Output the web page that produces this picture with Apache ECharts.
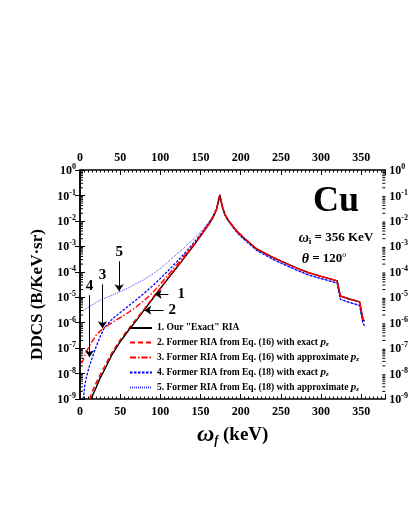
<!DOCTYPE html>
<html>
<head>
<meta charset="utf-8">
<script src="https://cdn.jsdelivr.net/npm/echarts@6/dist/echarts.min.js"></script>
<style>
  html, body { margin: 0; padding: 0; background: #fff; }
  #chart { width: 411px; height: 532px; }
</style>
</head>
<body>
<div id="chart"></div>
<script>
// photon energy grid (keV), rising side of the spectrum
const omegaLow = [2, 4, 6, 8, 10, 12, 14, 16, 20, 25, 30, 40, 50, 60, 70, 80, 90, 100, 110, 120, 130, 140, 150, 160, 165, 170];
// DDCS (b/keV sr), null = below the plotted range
const ddcsExact = [null, null, null, null, null, null, 1.0e-9, 1.48e-9, 2.8e-9, 6.6e-9, 1.32e-8, 5.6e-8, 1.78e-7, 4.8e-7, 1.2e-6, 3.2e-6, 8.3e-6, 2.2e-5, 5.6e-5, 1.4e-4, 3.6e-4, 9.3e-4, 2.5e-3, 7.1e-3, 1.26e-2, 2.8e-2];
const ddcsEq16Exact = [null, null, null, null, null, 1.0e-9, 1.5e-9, 2.2e-9, 4.2e-9, 9.1e-9, 1.74e-8, 6.9e-8, 2.1e-7, 5.6e-7, 1.38e-6, 3.5e-6, 9.1e-6, 2.3e-5, 6.0e-5, 1.48e-4, 3.8e-4, 9.5e-4, 2.6e-3, 7.2e-3, 1.29e-2, 2.9e-2];
const ddcsEq16Approx = [2.5e-8, 3.5e-8, 5.0e-8, 7.1e-8, 9.5e-8, 1.26e-7, 1.58e-7, 2.0e-7, 3.2e-7, 4.7e-7, 6.3e-7, 1.0e-6, 1.58e-6, 2.5e-6, 4.2e-6, 7.4e-6, 1.48e-5, 3.3e-5, 7.6e-5, 1.82e-4, 4.4e-4, 1.05e-3, 2.7e-3, 7.4e-3, 1.32e-2, 2.95e-2];
const ddcsEq18Exact = [null, 1.0e-9, 3.5e-9, 7.1e-9, 1.26e-8, 2.1e-8, 3.2e-8, 5.0e-8, 1.12e-7, 2.8e-7, 6.0e-7, 1.38e-6, 2.5e-6, 4.5e-6, 7.9e-6, 1.45e-5, 2.75e-5, 5.5e-5, 1.12e-4, 2.4e-4, 5.2e-4, 1.2e-3, 2.95e-3, 7.9e-3, 1.38e-2, 3.0e-2];
const ddcsEq18Approx = [null, 3.0e-6, 3.3e-6, 3.6e-6, 4.0e-6, 4.4e-6, 4.8e-6, 5.2e-6, 6.3e-6, 7.6e-6, 8.9e-6, 1.2e-5, 1.66e-5, 2.3e-5, 3.4e-5, 5.0e-5, 7.9e-5, 1.35e-4, 2.5e-4, 4.8e-4, 9.1e-4, 1.78e-3, 3.6e-3, 8.7e-3, 1.48e-2, 3.2e-2];

// peak and falling side, where the curves group into a red and a blue bundle
const omegaHigh = [174, 177, 180, 184, 190, 196, 205, 220, 240, 255, 270, 285, 300, 310, 320, 321, 324, 335, 348, 349, 352, 354];
const ddcsHighRed = [0.105, 3.8e-2, 1.9e-2, 1.12e-2, 6.3e-3, 3.7e-3, 2.0e-3, 7.9e-4, 3.7e-4, 2.24e-4, 1.38e-4, 9.1e-5, 6.6e-5, 5.4e-5, 4.4e-5, 4.2e-5, 1.12e-5, 8.5e-6, 6.6e-6, 6.5e-6, 1.41e-6, 1.12e-6];
const ddcsHighBlue = [0.1, 3.6e-2, 1.8e-2, 1.05e-2, 5.8e-3, 3.3e-3, 1.78e-3, 6.9e-4, 3.1e-4, 1.86e-4, 1.15e-4, 7.4e-5, 5.4e-5, 4.4e-5, 3.6e-5, 3.4e-5, 8.3e-6, 6.3e-6, 4.7e-6, 4.6e-6, 1.0e-6, 7.6e-7];

const seriesNames = [
    '1. Our "Exact" RIA',
    '2. Former RIA from Eq. (16) with exact p_z',
    '3. Former RIA from Eq. (16) with approximate p_z',
    '4. Former RIA from Eq. (18) with exact p_z',
    '5. Former RIA from Eq. (18) with approximate p_z'
];
const minorMantissas = [2, 3, 4, 5, 6, 7, 8, 9];

const FONT = '"Liberation Serif", "DejaVu Serif", serif';

function buildCurve(low, high) {
    const out = [];
    omegaLow.forEach((w, i) => { if (low[i] != null) out.push([w, low[i]]) });
    omegaHigh.forEach((w, i) => out.push([w, high[i]]));
    return out;
}

const minorTickData = [];
for (let e = -9; e < 0; e++) {
    minorMantissas.forEach(m => minorTickData.push([0, m * Math.pow(10, e)]));
}

const chart = echarts.init(document.getElementById('chart'));

const powLabel = {
    formatter: function (v) {
        const e = Math.round(Math.log10(v));
        return '{b|10}{s|' + e + '}';
    },
    rich: {
        b: { fontFamily: FONT, fontWeight: 'bold', fontSize: 12, color: '#000', lineHeight: 14, verticalAlign: 'bottom' },
        s: { fontFamily: FONT, fontWeight: 'bold', fontSize: 8, color: '#000', lineHeight: 9, verticalAlign: 'top' }
    }
};

const xLabel = { fontFamily: FONT, fontWeight: 'bold', fontSize: 12, color: '#000', showMaxLabel: false };

// arrow from -> to in data coordinates, numbered label at its tail
function arrowSeg(name, from, to, dist) {
    return [{ coord: from, name: name, label: { distance: dist } }, { coord: to }];
}

chart.setOption({
    animation: false,
    grid: { left: 80, right: 22, top: 170, bottom: 133 },
    legend: {
        data: seriesNames,
        orient: 'vertical',
        left: 124,
        top: 318,
        itemWidth: 22,
        itemHeight: 10,
        itemGap: 4,
        itemStyle: { opacity: 0 },
        formatter: name => name.replace(' p_z', ' {p|p}{z|z}'),
        textStyle: {
            fontFamily: FONT, fontWeight: 'bold', fontSize: 9.5, color: '#000',
            rich: {
                p: { fontFamily: FONT, fontWeight: 'bold', fontStyle: 'italic', fontSize: 11, color: '#000', lineHeight: 11 },
                z: { fontFamily: FONT, fontWeight: 'bold', fontStyle: 'italic', fontSize: 7, color: '#000', lineHeight: 7, verticalAlign: 'bottom' }
            }
        }
    },
    xAxis: [
        {
            type: 'value', min: 0, max: 380, interval: 50, position: 'bottom',
            name: '{w|ω}{f|f}{t| (keV)}',
            nameLocation: 'middle', nameGap: 24,
            nameTextStyle: {
                rich: {
                    w: { fontFamily: FONT, fontStyle: 'italic', fontWeight: 'bold', fontSize: 24, color: '#000', lineHeight: 24 },
                    f: { fontFamily: FONT, fontStyle: 'italic', fontWeight: 'bold', fontSize: 12, color: '#000', lineHeight: 12, verticalAlign: 'bottom' },
                    t: { fontFamily: FONT, fontWeight: 'bold', fontSize: 19, color: '#000', lineHeight: 24 }
                }
            },
            axisLine: { show: true, lineStyle: { color: '#000', width: 1.5 } },
            axisTick: { show: true, inside: true, length: 5, lineStyle: { color: '#000', width: 1 } },
            minorTick: { show: true, splitNumber: 10, length: 2.5, lineStyle: { color: '#000', width: 1 } },
            axisLabel: Object.assign({ margin: 7 }, xLabel),
            splitLine: { show: false }
        },
        {
            type: 'value', min: 0, max: 380, interval: 50, position: 'top',
            axisLine: { show: true, lineStyle: { color: '#000', width: 1.5 } },
            axisTick: { show: true, inside: true, length: 5, lineStyle: { color: '#000', width: 1 } },
            minorTick: { show: true, splitNumber: 10, length: 2.5, lineStyle: { color: '#000', width: 1 } },
            axisLabel: Object.assign({ margin: 6 }, xLabel),
            splitLine: { show: false }
        }
    ],
    yAxis: [
        {
            type: 'log', logBase: 10, min: 1e-9, max: 1, splitNumber: 10, position: 'left',
            name: 'DDCS (B/KeV·sr)',
            nameLocation: 'middle', nameGap: 27,
            nameTextStyle: { fontFamily: FONT, fontWeight: 'bold', fontSize: 17, color: '#000', padding: [0, 20, 0, 0] },
            axisLine: { show: true, lineStyle: { color: '#000', width: 1.5 } },
            axisTick: { show: true, inside: true, length: 5, lineStyle: { color: '#000', width: 1 } },
            axisLabel: Object.assign({ margin: 4 }, powLabel),
            splitLine: { show: false }
        },
        {
            type: 'log', logBase: 10, min: 1e-9, max: 1, splitNumber: 10, position: 'right',
            axisLine: { show: true, lineStyle: { color: '#000', width: 1.5 } },
            axisTick: { show: true, inside: true, length: 5, lineStyle: { color: '#000', width: 1 } },
            axisLabel: Object.assign({ margin: 4 }, powLabel),
            splitLine: { show: false }
        }
    ],
    series: [
        {
            name: seriesNames[4], type: 'line', showSymbol: false, symbol: 'none',
            data: buildCurve(ddcsEq18Approx, ddcsHighBlue),
            lineStyle: { color: '#3c3cff', width: 1, type: [1, 1] },
            itemStyle: { color: '#3c3cff' }
        },
        {
            name: seriesNames[3], type: 'line', showSymbol: false, symbol: 'none',
            data: buildCurve(ddcsEq18Exact, ddcsHighBlue),
            lineStyle: { color: '#0000ff', width: 1.3, type: [2.5, 1.5] },
            itemStyle: { color: '#0000ff' }
        },
        {
            name: seriesNames[0], type: 'line', showSymbol: false, symbol: 'none',
            data: buildCurve(ddcsExact, ddcsHighRed),
            lineStyle: { color: '#000', width: 1.4 },
            itemStyle: { color: '#000' },
            markLine: {
                silent: true,
                symbol: ['none', 'arrow'],
                symbolSize: 7,
                lineStyle: { color: '#000', width: 1, type: 'solid' },
                label: {
                    show: true, position: 'start', formatter: '{b}',
                    fontFamily: FONT, fontWeight: 'bold', fontSize: 15, color: '#000'
                },
                emphasis: { disabled: true },
                data: [
                    arrowSeg('1', [110, 1.3e-5], [93, 1.3e-5], 9),
                    arrowSeg('2', [104, 3.1e-6], [80, 3.1e-6], 5),
                    arrowSeg('3', [28, 3.2e-5], [28, 6.0e-7], 2),
                    arrowSeg('4', [11.8, 1.2e-5], [11.8, 4.4e-8], 2),
                    arrowSeg('5', [48.7, 2.6e-4], [48.7, 1.7e-5], 2)
                ]
            }
        },
        {
            name: seriesNames[1], type: 'line', showSymbol: false, symbol: 'none',
            data: buildCurve(ddcsEq16Exact, ddcsHighRed),
            lineStyle: { color: '#ff0000', width: 1.4, type: [5, 3] },
            itemStyle: { color: '#ff0000' }
        },
        {
            name: seriesNames[2], type: 'line', showSymbol: false, symbol: 'none',
            data: buildCurve(ddcsEq16Approx, ddcsHighRed),
            lineStyle: { color: '#ff0000', width: 1.4, type: [6, 2, 1.5, 2] },
            itemStyle: { color: '#ff0000' }
        },
        {
            // log-spaced minor ticks on the left and right y axes
            type: 'custom', silent: true, clip: false,
            data: minorTickData,
            renderItem: function (params, api) {
                const v = api.value(1);
                const l = api.coord([0, v]);
                const r = api.coord([380, v]);
                return {
                    type: 'group',
                    children: [
                        { type: 'line', shape: { x1: l[0], y1: l[1], x2: l[0] + 3, y2: l[1] }, style: { stroke: '#000', lineWidth: 1 } },
                        { type: 'line', shape: { x1: r[0] - 3, y1: r[1], x2: r[0], y2: r[1] }, style: { stroke: '#000', lineWidth: 1 } }
                    ]
                };
            }
        }
    ],
    graphic: [
        {
            type: 'text', x: 336, y: 202,
            style: { text: 'Cu', fontFamily: FONT, fontWeight: 'bold', fontSize: 36, fill: '#000', align: 'center', verticalAlign: 'middle' }
        },
        {
            type: 'text', x: 336, y: 238,
            style: {
                text: '{w|ω}{i|i}{t| = 356 KeV}', align: 'center', verticalAlign: 'middle',
                rich: {
                    w: { fontFamily: FONT, fontStyle: 'italic', fontWeight: 'bold', fontSize: 14, fill: '#000', lineHeight: 16 },
                    i: { fontFamily: FONT, fontWeight: 'bold', fontSize: 9, fill: '#000', lineHeight: 9, verticalAlign: 'bottom' },
                    t: { fontFamily: FONT, fontWeight: 'bold', fontSize: 13, fill: '#000', lineHeight: 16 }
                }
            }
        },
        {
            type: 'text', x: 324, y: 259,
            style: {
                text: '{w|θ}{t| = 120}{o|o}', align: 'center', verticalAlign: 'middle',
                rich: {
                    w: { fontFamily: FONT, fontStyle: 'italic', fontWeight: 'bold', fontSize: 14, fill: '#000', lineHeight: 16 },
                    t: { fontFamily: FONT, fontWeight: 'bold', fontSize: 13, fill: '#000', lineHeight: 16 },
                    o: { fontFamily: FONT, fontStyle: 'italic', fontSize: 8, fill: '#000', lineHeight: 8, verticalAlign: 'top' }
                }
            }
        }
    ]
});
</script>
</body>
</html>
